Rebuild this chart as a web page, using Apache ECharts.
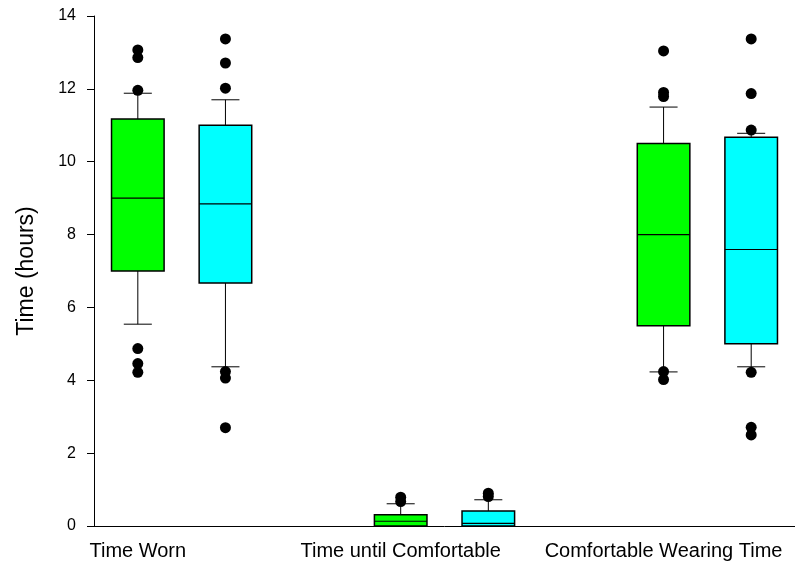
<!DOCTYPE html>
<html>
<head>
<meta charset="utf-8">
<script src="https://cdn.jsdelivr.net/npm/echarts@6/dist/echarts.min.js"></script>
<style>html,body{margin:0;padding:0;background:#fff}#c{width:795px;height:569px}</style>
</head>
<body>
<div id="c"></div>
<script>
// ---- data ----
const groupNames = ['Time Worn', 'Time until Comfortable', 'Comfortable Wearing Time'];
const slotLabels = ['Time Worn', '', '', 'Time until Comfortable', '', '', 'Comfortable Wearing Time', ''];
// [lower whisker, Q1, median, Q3, upper whisker]
const greenStats = [
  [5.54, 7.0, 9.0, 11.17, 11.88],
  [0, 0, 0.13, 0.31, 0.61],
  [4.23, 5.5, 8.0, 10.5, 11.5]
];
const cyanStats = [
  [4.37, 6.67, 8.84, 11.0, 11.70],
  [0, 0, 0.07, 0.41, 0.72],
  [4.37, 5.0, 7.59, 10.67, 10.78]
];
const greenOutliers = [
  [13.07, 12.86, 11.96, 4.87, 4.46, 4.22],
  [0.79, 0.67],
  [13.04, 11.9, 11.79, 4.24, 4.02]
];
const cyanOutliers = [
  [13.37, 12.71, 12.02, 4.24, 4.06, 2.70],
  [0.90, 0.81],
  [13.37, 11.87, 10.87, 4.22, 2.71, 2.50]
];
const yTicks = [0, 2, 4, 6, 8, 10, 12, 14];

// ---- build ----
const boxData = [];
const outData = [];
groupNames.forEach((g, i) => {
  boxData.push({ value: [3 * i].concat(greenStats[i]), itemStyle: { color: '#00ff00' } });
  boxData.push({ value: [3 * i + 1].concat(cyanStats[i]), itemStyle: { color: '#00ffff' } });
  greenOutliers[i].forEach(v => outData.push([3 * i, v]));
  cyanOutliers[i].forEach(v => outData.push([3 * i + 1, v]));
});

function renderBox(params, api) {
  const x = api.value(0);
  const lo = api.coord([x, api.value(1)]);
  const q1 = api.coord([x, api.value(2)]);
  const md = api.coord([x, api.value(3)]);
  const q3 = api.coord([x, api.value(4)]);
  const hi = api.coord([x, api.value(5)]);
  const band = api.size([1, 0])[0];
  const bw = band * 0.6;
  const cw = band * 0.32;
  const cx = lo[0];
  const fill = api.visual('color');
  const ls = { stroke: '#000', lineWidth: 1 };
  const children = [];
  if (hi[1] < q3[1]) {
    children.push({ type: 'line', shape: { x1: cx, y1: q3[1], x2: cx, y2: hi[1] }, style: ls });
    children.push({ type: 'line', shape: { x1: cx - cw / 2, y1: hi[1], x2: cx + cw / 2, y2: hi[1] }, style: ls });
  }
  if (lo[1] > q1[1]) {
    children.push({ type: 'line', shape: { x1: cx, y1: q1[1], x2: cx, y2: lo[1] }, style: ls });
    children.push({ type: 'line', shape: { x1: cx - cw / 2, y1: lo[1], x2: cx + cw / 2, y2: lo[1] }, style: ls });
  }
  children.push({ type: 'rect', shape: { x: cx - bw / 2, y: q3[1], width: bw, height: q1[1] - q3[1] },
    style: { fill: fill, stroke: '#000', lineWidth: 1.5 } });
  children.push({ type: 'line', shape: { x1: cx - bw / 2, y1: md[1], x2: cx + bw / 2, y2: md[1] }, style: { stroke: '#000', lineWidth: 1.2 } });
  return { type: 'group', children: children };
}

const chart = echarts.init(document.getElementById('c'), null, { renderer: 'canvas' });
chart.setOption({
  backgroundColor: '#fff',
  animation: false,
  grid: { left: 94, right: -3, top: 16, bottom: 43, containLabel: false },
  xAxis: {
    type: 'category',
    data: slotLabels.map((s, i) => String(i)),
    boundaryGap: true,
    axisLine: { lineStyle: { color: '#000', width: 1 } },
    axisTick: { alignWithLabel: true, length: 7, lineStyle: { color: '#000' } },
    axisLabel: {
      interval: 0, margin: 15, color: '#000', fontSize: 20, fontFamily: 'Liberation Sans',
      formatter: (v, i) => slotLabels[i]
    },
    splitLine: { show: false }
  },
  yAxis: {
    type: 'value', min: yTicks[0], max: yTicks[yTicks.length - 1], interval: 2,
    name: 'Time (hours)', nameLocation: 'middle', nameGap: 56,
    nameTextStyle: { color: '#000', fontSize: 23, fontFamily: 'Liberation Sans' },
    axisLine: { show: true, lineStyle: { color: '#000', width: 1 } },
    axisTick: { show: true, length: 7, lineStyle: { color: '#000' } },
    axisLabel: { margin: 18, color: '#000', fontSize: 16, fontFamily: 'Liberation Sans' },
    splitLine: { show: false }
  },
  series: [
    { type: 'custom', renderItem: renderBox, data: boxData, encode: { x: 0, y: [1, 2, 3, 4, 5] }, z: 2 },
    { type: 'scatter', data: outData, symbol: 'circle', symbolSize: 11, itemStyle: { color: '#000', opacity: 1 }, z: 3 }
  ]
});
</script>
</body>
</html>
